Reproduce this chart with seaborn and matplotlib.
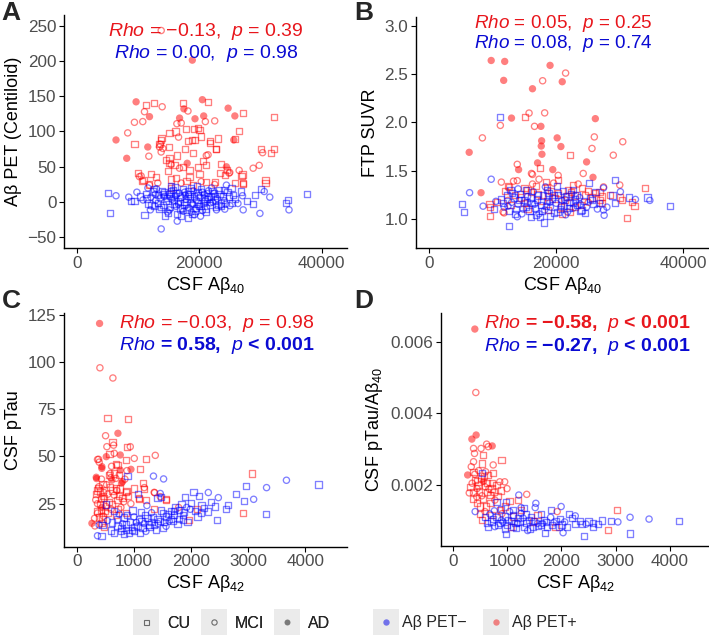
import pandas as pd
import matplotlib
matplotlib.use("Agg")
import matplotlib.pyplot as plt
import seaborn as sns
from matplotlib.lines import Line2D
from matplotlib.legend_handler import HandlerTuple

# ---- data (x, y, diagnosis) ----
# Panel A: CSF Ab40 vs Ab PET centiloid
a_pos = [(13770,243,"MCI"),(18850,201,"AD"),(9670,142,"AD"),(11310,138,"CU"),(12570,140,"CU"),(13930,135,"MCI"),
         (17270,140,"CU"),(17480,132,"AD"),(18140,129,"MCI"),(20490,145,"AD"),(21420,142,"CU"),(24700,133,"AD"),
         (25800,122,"AD"),(27160,126,"CU"),(32180,120,"CU"),(11040,128,"MCI"),(11860,121,"AD"),(10760,114,"MCI"),
         (9400,113,"MCI"),(6390,88,"AD"),(8300,98,"MCI"),(9400,82,"CU"),(11580,78,"AD"),(8140,62,"AD"),
         (11750,65,"MCI"),(13600,82,"MCI"),(14040,76,"MCI"),(13820,91,"CU"),(16770,119,"AD"),(19290,118,"AD"),
         (20710,122,"AD"),(20980,114,"MCI"),(22510,115,"MCI"),(19780,105,"CU"),(18850,88,"CU"),(25620,88,"AD"),
         (26500,101,"CU"),(25790,89,"CU"),(22780,75,"CU"),(21690,84,"CU"),(21420,67,"MCI"),(30050,75,"CU"),
         (32240,75,"CU"),(31640,70,"CU"),(30330,70,"MCI"),(29780,52,"MCI"),(28790,48,"MCI"),(30820,31,"CU"),
         (30820,27,"CU"),(26500,45,"MCI"),(27050,39,"CU"),(27160,27,"CU"),(24970,42,"MCI"),(24420,50,"AD"),
         (23600,54,"CU"),(23330,41,"CU"),(9950,41,"CU"),(10490,37,"MCI"),(10870,31,"CU"),(11860,24,"MCI"),
         (12950,36,"CU"),(15130,98,"CU"),(16110,100,"CU"),(16330,111,"MCI"),(17040,112,"MCI"),(18130,86,"CU"),
         (19330,88,"CU"),(20040,102,"CU"),(20310,93,"CU"),(19110,103,"CU"),(13760,88,"CU"),(13490,82,"CU"),
         (13760,71,"MCI"),(15020,78,"CU"),(13490,78,"MCI"),(15130,62,"CU"),(15130,55,"CU"),(15400,53,"MCI"),
         (15950,53,"CU"),(18020,55,"AD"),(16760,48,"MCI"),(17300,50,"CU"),(18400,45,"CU"),(19770,50,"CU"),
         (20040,40,"CU"),(21030,53,"CU"),(21140,66,"MCI"),(21680,86,"CU"),(22670,75,"CU"),(24580,46,"CU"),
         (10640,30,"CU"),(10210,36,"MCI"),(12120,40,"CU"),(13210,27,"MCI"),(11740,25,"CU"),(15400,32,"CU"),
         (16220,34,"CU"),(18400,36,"CU"),(18950,24,"CU"),(15400,20,"CU"),(17040,27,"MCI"),(20310,29,"MCI"),
         (21140,29,"CU"),(22510,29,"CU"),(22510,25,"MCI"),(24150,38,"CU"),(25790,27,"CU"),(24850,41,"MCI"),
         (26880,37,"CU"),(27160,26,"CU"),(17800,104,"CU"),(16600,92,"MCI"),(14500,60,"CU"),(19000,70,"CU"),
         (17600,75,"CU"),(16400,66,"CU"),(20600,58,"CU"),(23000,90,"CU"),(14900,44,"CU"),(17900,30,"CU")]
a_neg = [(5030,13,"CU"),(6390,9,"MCI"),(5410,-15,"CU"),(8470,7,"MCI"),(9400,1,"CU"),(11040,-18,"CU"),
         (13770,-38,"MCI"),(16390,-27,"MCI"),(18140,-23,"CU"),(18700,-14,"MCI"),(27160,-11,"MCI"),(29890,-16,"MCI"),
         (34150,-1,"CU"),(34530,3,"CU"),(34640,-11,"MCI"),(37590,11,"CU"),(30050,18,"CU"),(30600,15,"MCI"),
         (29070,10,"CU"),(28790,-3,"CU"),(27050,9,"MCI"),(24150,-10,"MCI"),(24420,24,"MCI"),(25240,20,"CU"),
         (25500,10,"CU"),(20500,-12,"MCI"),(15410,22,"CU"),(11600,20,"MCI"),(10300,8,"CU"),(10800,3,"MCI"),
         (11300,12,"CU"),(11700,-2,"CU"),(12100,7,"MCI"),(12400,15,"CU"),(12600,-6,"CU"),(12900,3,"MCI"),
         (13200,10,"CU"),(13400,-10,"CU"),(13600,5,"MCI"),(13900,16,"CU"),(14100,-4,"CU"),(14300,8,"MCI"),
         (14600,1,"CU"),(14800,-14,"MCI"),(15000,12,"CU"),(15200,-7,"CU"),(15500,4,"MCI"),(15700,17,"CU"),
         (15900,-2,"CU"),(16100,9,"MCI"),(16300,-17,"CU"),(16500,2,"CU"),(16700,13,"MCI"),(16900,-9,"CU"),
         (17100,6,"MCI"),(17300,19,"CU"),(17500,-4,"CU"),(17700,10,"MCI"),(17900,0,"CU"),(18100,15,"CU"),
         (18300,-8,"MCI"),(18500,5,"CU"),(18700,20,"CU"),(18900,-3,"MCI"),(19100,9,"CU"),(19300,-12,"CU"),
         (19500,3,"MCI"),(19700,14,"CU"),(19900,-6,"CU"),(20100,7,"MCI"),(20300,18,"CU"),(20600,-1,"CU"),
         (20800,11,"MCI"),(21000,-9,"CU"),(21200,4,"CU"),(21500,16,"MCI"),(21700,-4,"CU"),(21900,8,"CU"),
         (22200,0,"MCI"),(22400,13,"CU"),(22700,-7,"CU"),(22900,5,"MCI"),(23200,17,"CU"),(23500,-2,"CU"),
         (23800,9,"CU"),(24100,2,"MCI"),(24600,14,"CU"),(25000,-5,"MCI"),(25800,4,"CU"),(26300,-2,"MCI"),
         (12000,-11,"MCI"),(14400,-19,"CU"),(16000,21,"CU"),(18800,-17,"CU"),(20200,-20,"MCI"),(22000,20,"MCI"),
         (19600,22,"CU"),(17400,-13,"MCI"),(13000,19,"MCI"),(15300,9,"CU"),(17800,4,"MCI"),(20900,1,"CU"),
         (22600,9,"CU"),(9800,14,"MCI"),(8900,2,"CU"),(27800,2,"CU"),(26800,15,"CU"),(31500,7,"MCI"),
         (14000,12,"CU"),(16200,-6,"MCI"),(18200,9,"CU"),(19800,-2,"CU"),(21300,12,"MCI"),(23100,-4,"CU"),
         (11500,5,"CU"),(12200,-4,"CU"),(12800,11,"MCI"),(13300,-1,"CU"),(13800,-7,"CU"),(14200,14,"CU"),
         (14700,6,"CU"),(15100,-11,"MCI"),(15400,15,"CU"),(15800,3,"CU"),(16200,13,"CU"),(16600,-3,"MCI"),
         (16900,8,"CU"),(17200,-8,"CU"),(17600,14,"MCI"),(18000,-11,"CU"),(18400,11,"CU"),(18600,-1,"CU"),
         (19000,16,"MCI"),(19400,-8,"CU"),(19800,10,"CU"),(20200,-5,"CU"),(20500,14,"MCI"),(20700,5,"CU"),
         (21100,-14,"CU"),(21400,8,"CU"),(21800,-1,"MCI"),(22100,16,"CU"),(22500,3,"CU"),(22800,-11,"MCI"),
         (23300,11,"CU"),(23600,-6,"CU"),(24000,17,"CU"),(24300,-3,"MCI"),(24800,8,"CU"),(25300,-1,"CU"),
         (12600,19,"CU"),(17000,-20,"CU"),(19200,-18,"MCI"),(14900,-16,"CU")]

# Panel B: CSF Ab40 vs FTP SUVR
b_pos = [(9760,2.645,"AD"),(11890,2.635,"AD"),(19040,2.594,"AD"),(21490,2.514,"MCI"),(17870,2.434,"MCI"),
         (11730,2.438,"AD"),(20960,2.424,"AD"),(16270,2.351,"AD"),(15730,2.098,"MCI"),(18190,2.10,"MCI"),
         (15090,2.057,"CU"),(12960,2.046,"AD"),(11200,1.97,"MCI"),(16590,1.96,"MCI"),(17600,1.96,"AD"),
         (26180,2.04,"AD"),(8370,1.84,"MCI"),(26020,1.85,"MCI"),(20160,1.84,"AD"),(17710,1.81,"AD"),
         (17650,1.755,"AD"),(20750,1.75,"AD"),(25650,1.73,"MCI"),(6290,1.69,"AD"),(17760,1.67,"AD"),
         (30500,1.80,"MCI"),(29010,1.66,"MCI"),(22130,1.66,"CU"),(17070,1.58,"AD"),(24800,1.59,"AD"),
         (13870,1.565,"MCI"),(14080,1.51,"AD"),(16110,1.47,"MCI"),(19470,1.51,"AD"),(20320,1.45,"MCI"),
         (25810,1.43,"AD"),(24270,1.47,"MCI"),(8160,1.27,"AD"),(11360,1.38,"MCI"),(13280,1.39,"MCI"),
         (13870,1.395,"MCI"),(12430,1.34,"CU"),(33970,1.32,"CU"),(32370,1.13,"CU"),(31200,1.01,"CU"),
         (20900,1.05,"CU"),(9600,1.03,"CU"),(9490,1.15,"CU"),(11790,1.06,"MCI"),(30130,1.22,"CU"),
         (30030,1.35,"MCI"),(26930,1.19,"CU"),(26830,1.28,"CU"),(12530,1.33,"CU"),(15470,1.30,"CU"),
         (16270,1.36,"MCI"),(16800,1.34,"CU"),(18400,1.38,"CU"),(18560,1.33,"CU"),(20270,1.40,"CU"),
         (22670,1.35,"CU"),(23470,1.36,"MCI"),(25070,1.29,"CU"),(26130,1.27,"CU"),(27470,1.33,"MCI"),
         (27200,1.16,"CU"),(30400,1.19,"CU"),(31900,1.17,"CU"),(9600,1.12,"CU"),(11630,1.07,"MCI"),
         (10670,1.17,"CU"),(12370,1.19,"MCI"),(14400,1.22,"CU"),(16000,1.28,"CU"),(17070,1.26,"CU"),
         (18670,1.23,"CU"),(20270,1.27,"CU"),(21330,1.19,"CU"),(22930,1.24,"CU"),(23970,1.14,"CU"),
         (25070,1.17,"MCI"),(27200,1.23,"CU"),(18670,1.09,"CU"),(15470,1.10,"CU"),(12800,1.14,"CU"),
         (22130,1.07,"CU"),(16270,1.46,"MCI"),(17440,1.53,"CU"),(19800,1.21,"CU"),(21900,1.30,"CU"),
         (14900,1.16,"CU"),(24500,1.24,"CU"),(13500,1.25,"CU"),(15000,1.32,"CU"),(17700,1.18,"CU"),
         (19200,1.29,"CU"),(20800,1.12,"CU"),(22300,1.28,"CU"),(24100,1.32,"CU"),(25600,1.22,"CU"),
         (19600,1.37,"MCI"),(21800,1.23,"CU"),(11900,1.29,"CU"),(28500,1.25,"CU"),(17300,1.41,"MCI"),
         (23000,1.12,"CU")]
b_neg = [(11090,2.057,"CU"),(9760,1.41,"MCI"),(6350,1.27,"MCI"),(5170,1.15,"CU"),(5440,1.07,"CU"),
         (8480,1.13,"MCI"),(12530,0.92,"CU"),(18030,0.96,"CU"),(13870,1.02,"MCI"),(17490,1.02,"CU"),
         (20110,1.34,"CU"),(25170,1.37,"CU"),(27470,1.32,"MCI"),(29330,1.40,"CU"),(28900,1.24,"CU"),
         (30130,1.28,"MCI"),(29220,1.16,"CU"),(34400,1.22,"CU"),(34770,1.19,"MCI"),(37920,1.13,"CU"),
         (27570,1.035,"MCI"),(27470,1.09,"MCI"),(23840,1.08,"CU"),(11300,1.20,"CU"),(11800,1.12,"MCI"),
         (12200,1.25,"CU"),(12600,1.08,"CU"),(13000,1.17,"MCI"),(13300,1.22,"CU"),(13700,1.10,"CU"),
         (14000,1.15,"MCI"),(14300,1.26,"CU"),(14600,1.05,"MCI"),(14900,1.19,"CU"),(15200,1.12,"CU"),
         (15500,1.23,"MCI"),(15800,1.08,"CU"),(16100,1.16,"CU"),(16400,1.28,"MCI"),(16700,1.11,"CU"),
         (17000,1.20,"CU"),(17300,1.05,"MCI"),(17600,1.14,"CU"),(17900,1.24,"CU"),(18200,1.09,"MCI"),
         (18500,1.18,"CU"),(18800,1.27,"CU"),(19100,1.12,"MCI"),(19400,1.21,"CU"),(19700,1.06,"CU"),
         (20000,1.16,"MCI"),(20300,1.25,"CU"),(20600,1.10,"CU"),(20900,1.19,"MCI"),(21200,1.13,"CU"),
         (21500,1.23,"CU"),(21800,1.07,"MCI"),(22100,1.17,"CU"),(22400,1.26,"CU"),(22700,1.11,"MCI"),
         (23000,1.20,"CU"),(23300,1.14,"CU"),(23700,1.22,"MCI"),(24000,1.09,"CU"),(24400,1.18,"CU"),
         (24800,1.12,"MCI"),(25300,1.21,"CU"),(25900,1.15,"CU"),(26500,1.10,"MCI"),(16000,1.02,"CU"),
         (19000,1.03,"CU"),(21500,1.04,"MCI"),(15200,1.30,"CU"),(18300,1.33,"MCI"),(22600,1.30,"CU"),
         (12800,1.30,"CU"),(10500,1.18,"MCI"),(10200,1.10,"CU"),(28000,1.12,"MCI"),(26200,1.28,"CU"),
         (31500,1.22,"CU"),(32500,1.20,"MCI"),(11600,1.16,"CU"),(12400,1.13,"MCI"),(13100,1.27,"CU"),
         (13500,1.05,"CU"),(14200,1.19,"CU"),(14800,1.10,"MCI"),(15400,1.17,"CU"),(16000,1.22,"CU"),
         (16600,1.15,"MCI"),(17200,1.24,"CU"),(17800,1.08,"CU"),(18400,1.13,"CU"),(19000,1.17,"MCI"),
         (19600,1.25,"CU"),(20200,1.07,"CU"),(20800,1.14,"CU"),(21400,1.20,"MCI"),(22000,1.11,"CU"),
         (22600,1.16,"CU"),(23200,1.25,"CU"),(23800,1.15,"MCI"),(24600,1.06,"CU"),(25600,1.19,"CU"),
         (26800,1.16,"CU"),(18600,1.30,"CU"),(21100,1.29,"CU"),(14000,1.31,"MCI"),(16800,1.04,"CU")]

# Panel C: CSF Ab42 vs CSF pTau
c_pos = [(397,120.5,"AD"),(403,97,"MCI"),(630,91.6,"MCI"),(537,70.2,"CU"),(893,69.9,"CU"),(718,62.3,"AD"),
         (502,61,"MCI"),(625,57.8,"CU"),(525,55.2,"MCI"),(642,56,"MCI"),(876,55.2,"CU"),(934,55.2,"MCI"),
         (380,48.5,"MCI"),(438,44.6,"AD"),(514,49.9,"AD"),(572,51.3,"CU"),(654,51.7,"MCI"),(683,46,"CU"),
         (759,50.8,"AD"),(1004,49,"MCI"),(1208,48.7,"CU"),(1372,50.6,"MCI"),(1109,43.2,"CU"),(864,48.1,"CU"),
         (946,43.2,"AD"),(876,42.5,"MCI"),(339,39,"AD"),(800,36.7,"AD"),(741,40.2,"CU"),(584,41,"MCI"),
         (613,37.5,"AD"),(385,34,"MCI"),(409,31.4,"CU"),(870,31.7,"CU"),(1156,35.8,"CU"),(1179,33.5,"MCI"),
         (1086,27.8,"CU"),(1214,27,"CU"),(1360,30.8,"MCI"),(1460,28.7,"MCI"),(1559,27.3,"CU"),(3064,41,"CU"),
         (2907,20.2,"CU"),(1955,16.3,"CU"),(1780,23,"MCI"),(2101,22,"CU"),(263,14.6,"AD"),(309,17.2,"MCI"),
         (361,25,"MCI"),(361,32,"CU"),(379,33.5,"CU"),(344,38.3,"AD"),(361,48.4,"MCI"),(390,47,"MCI"),
         (436,43.7,"AD"),(448,35.6,"CU"),(419,27.6,"CU"),(478,27.9,"CU"),(507,23.5,"MCI"),(419,21.7,"CU"),
         (536,20,"CU"),(466,18.3,"MCI"),(624,32,"CU"),(653,29.5,"MCI"),(682,33,"CU"),(712,27,"CU"),
         (595,38.8,"MCI"),(566,40,"CU"),(682,38.4,"MCI"),(781,35.9,"AD"),(712,45.4,"CU"),(607,44.8,"MCI"),
         (758,42.8,"AD"),(390,17.7,"CU"),(315,13.2,"MCI"),(431,14.8,"CU"),(770,23,"MCI"),(857,31,"CU"),
         (857,20,"CU"),(945,25,"MCI"),(1091,27.4,"CU"),(1178,32.7,"CU"),(1353,31,"MCI"),(1557,26.8,"CU"),
         (1353,22.3,"CU"),(330,27,"MCI"),(470,31,"MCI"),(560,26,"CU"),(600,22,"MCI"),(680,19,"CU"),
         (440,23,"AD"),(350,21,"CU"),(520,35,"MCI"),(740,29,"CU"),(820,26,"MCI"),(480,12.5,"CU"),
         (330,30,"CU"),(360,20,"MCI"),(410,25,"CU"),(430,38,"MCI"),(460,29,"CU"),(490,21,"CU"),
         (540,30,"MCI"),(580,34,"CU"),(620,25,"CU"),(650,41,"CU"),(700,32,"MCI"),(720,22,"CU"),
         (760,33,"CU"),(800,28,"CU"),(840,38,"MCI"),(900,29,"CU"),(1000,33,"CU"),(450,17,"CU")]
c_neg = [(361,8,"MCI"),(431,8,"CU"),(507,24.6,"CU"),(885,39.6,"CU"),(1340,39.6,"MCI"),(1517,38.1,"MCI"),
         (1073,30,"CU"),(1225,24,"MCI"),(1410,27.8,"CU"),(1470,28.7,"CU"),(1459,30.4,"MCI"),(2042,31,"CU"),
         (1890,28.5,"CU"),(2300,30.9,"MCI"),(2140,29.1,"CU"),(2475,28.2,"MCI"),(2784,30.2,"CU"),(2959,34.4,"CU"),
         (3319,33.5,"MCI"),(3667,37.4,"MCI"),(4228,35.1,"CU"),(3093,27.3,"MCI"),(2918,26.2,"CU"),(3307,19.6,"CU"),
         (2452,16.5,"CU"),(2638,24.4,"CU"),(2610,22.3,"CU"),(2416,23.5,"CU"),(2288,20.8,"CU"),(2171,19.9,"CU"),
         (2112,18.2,"CU"),(1984,22,"MCI"),(1832,25,"CU"),(1791,21.5,"CU"),(1704,18.8,"CU"),(1645,21,"CU"),
         (1616,15.7,"MCI"),(1558,18.2,"CU"),(1470,21.4,"CU"),(1412,17,"CU"),(1307,15.3,"CU"),(1237,17.6,"CU"),
         (1178,14.4,"MCI"),(1091,17,"CU"),(1003,12.7,"CU"),(933,15.3,"CU"),(857,11.2,"CU"),(799,14.4,"MCI"),
         (770,10.5,"CU"),(712,13,"CU"),(653,9.5,"CU"),(741,19.4,"MCI"),(828,17.7,"CU"),(974,21.4,"CU"),
         (1120,20.5,"CU"),(1307,20.2,"MCI"),(1353,13.6,"CU"),(1529,15.2,"CU"),(1675,16,"CU"),(1762,14.3,"CU"),
         (1850,16.6,"CU"),(1937,15.2,"CU"),(1003,10.3,"CU"),(1149,12,"CU"),(1208,10.3,"MCI"),(595,10.8,"CU"),
         (653,21.3,"CU"),(536,16,"MCI"),(915,9.5,"CU"),(448,13.7,"CU"),(390,13.7,"MCI"),(1040,15,"MCI"),
         (1270,12.5,"CU"),(1600,19.5,"CU"),(1880,20.5,"CU"),(2000,25.5,"CU"),(1720,23,"CU"),(860,14,"CU"),
         (1420,14.5,"MCI"),(2230,22.5,"CU"),(620,15,"CU"),(700,17,"CU"),(780,12,"CU"),(880,19,"CU"),
         (960,11,"CU"),(1060,13,"CU"),(1130,16,"CU"),(1190,19,"CU"),(1260,14,"CU"),(1330,18,"CU"),
         (1380,11,"CU"),(1450,16,"CU"),(1500,20,"CU"),(1560,13,"MCI"),(1640,17,"CU"),(1700,21,"CU"),
         (1790,17,"CU"),(1860,19,"CU"),(1920,23,"MCI"),(2060,21,"CU"),(2180,24,"CU"),(2350,26,"CU"),
         (1000,18,"MCI"),(830,9,"CU"),(1110,9.5,"CU"),(1500,12,"CU")]

# Panel D: CSF Ab42 vs CSF pTau/Ab40
d_pos = [(400,0.00635,"AD"),(418,0.00458,"MCI"),(424,0.003395,"AD"),(345,0.00328,"AD"),(618,0.00314,"MCI"),
         (721,0.00309,"AD"),(648,0.00307,"MCI"),(376,0.00302,"MCI"),(394,0.00288,"MCI"),(557,0.00284,"CU"),
         (515,0.00302,"MCI"),(891,0.00270,"CU"),(376,0.00265,"MCI"),(527,0.00260,"CU"),(739,0.00256,"MCI"),
         (334,0.00251,"MCI"),(376,0.00237,"CU"),(267,0.00228,"AD"),(406,0.00214,"CU"),(515,0.00219,"CU"),
         (648,0.00228,"CU"),(739,0.00233,"CU"),(600,0.00237,"MCI"),(467,0.00200,"CU"),(588,0.00195,"MCI"),
         (709,0.00190,"CU"),(860,0.00209,"MCI"),(951,0.00209,"MCI"),(994,0.00190,"MCI"),(297,0.00178,"MCI"),
         (376,0.00181,"CU"),(436,0.00167,"MCI"),(557,0.00162,"CU"),(678,0.00172,"CU"),(770,0.00158,"MCI"),
         (1042,0.00156,"CU"),(1194,0.00158,"CU"),(1358,0.00174,"MCI"),(497,0.00140,"CU"),(588,0.00126,"MCI"),
         (527,0.00102,"CU"),(709,0.00116,"CU"),(860,0.00130,"CU"),(1103,0.00112,"CU"),(1073,0.00084,"CU"),
         (1558,0.00116,"CU"),(1891,0.00084,"CU"),(3030,0.00131,"CU"),(2860,0.00074,"CU"),(1921,0.00126,"MCI"),
         (1467,0.00098,"CU"),(440,0.00190,"MCI"),(620,0.00180,"CU"),(800,0.00200,"CU"),(350,0.00205,"MCI"),
         (470,0.00240,"MCI"),(690,0.00150,"CU"),(560,0.00210,"AD"),(440,0.00150,"CU"),(900,0.00120,"MCI"),
         (320,0.00195,"CU"),(360,0.00160,"CU"),(400,0.00230,"MCI"),(450,0.00210,"CU"),(480,0.00180,"CU"),
         (530,0.00170,"MCI"),(570,0.00225,"CU"),(630,0.00205,"CU"),(660,0.00190,"MCI"),(720,0.00205,"CU"),
         (760,0.00180,"CU"),(820,0.00170,"CU"),(880,0.00185,"CU"),(950,0.00140,"CU"),(1250,0.00130,"CU"),
         (600,0.00140,"CU"),(500,0.00120,"CU")]
d_neg = [(527,0.00233,"CU"),(406,0.00126,"MCI"),(1212,0.00172,"MCI"),(1994,0.00140,"MCI"),(3267,0.00110,"MCI"),
         (3618,0.00105,"MCI"),(4164,0.00100,"CU"),(3267,0.00065,"CU"),(2418,0.00058,"CU"),(982,0.00063,"CU"),
         (1691,0.00067,"CU"),(2030,0.00067,"MCI"),(2921,0.00100,"CU"),(3042,0.00097,"MCI"),(2752,0.00101,"CU"),
         (2588,0.00093,"CU"),(2455,0.00091,"MCI"),(2588,0.00082,"CU"),(2346,0.00100,"CU"),(2255,0.00091,"CU"),
         (2255,0.00114,"MCI"),(2133,0.00119,"CU"),(1800,0.00131,"CU"),(1515,0.00137,"MCI"),(1315,0.00135,"CU"),
         (1254,0.00121,"MCI"),(1194,0.00107,"CU"),(1103,0.00116,"CU"),(1012,0.00102,"CU"),(891,0.00102,"MCI"),
         (800,0.00110,"CU"),(709,0.00098,"CU"),(648,0.00084,"CU"),(770,0.00084,"MCI"),(860,0.00093,"CU"),
         (951,0.00079,"CU"),(1103,0.00084,"CU"),(1194,0.00093,"MCI"),(1315,0.00084,"CU"),(1376,0.00073,"MCI"),
         (1467,0.00084,"CU"),(1558,0.00093,"MCI"),(1679,0.00102,"CU"),(1739,0.00084,"CU"),(1861,0.00095,"MCI"),
         (1952,0.00082,"CU"),(1800,0.00110,"MCI"),(1618,0.00119,"CU"),(1436,0.00110,"CU"),(2103,0.00084,"CU"),
         (679,0.00119,"MCI"),(879,0.00133,"CU"),(1042,0.00126,"MCI"),(982,0.00153,"CU"),(800,0.00153,"CU"),
         (1527,0.00149,"MCI"),(588,0.00110,"CU"),(1254,0.00137,"MCI"),(1150,0.00095,"CU"),(1620,0.00090,"CU"),
         (1980,0.00105,"CU"),(2200,0.00108,"CU"),(1400,0.00102,"CU"),(950,0.00112,"CU"),
         (620,0.00095,"CU"),(740,0.00105,"CU"),(830,0.00088,"CU"),(920,0.00097,"MCI"),(1000,0.00088,"CU"),
         (1070,0.00100,"CU"),(1160,0.00081,"CU"),(1240,0.00098,"CU"),(1290,0.00108,"MCI"),(1350,0.00093,"CU"),
         (1420,0.00079,"CU"),(1490,0.00099,"CU"),(1570,0.00085,"CU"),(1650,0.00093,"MCI"),(1720,0.00097,"CU"),
         (1820,0.00089,"CU"),(1900,0.00100,"CU"),(2000,0.00090,"CU"),(2060,0.00097,"MCI"),(2380,0.00092,"CU"),
         (2500,0.00098,"CU"),(2680,0.00091,"CU"),(1100,0.00130,"CU"),(1350,0.00118,"CU"),(760,0.00128,"MCI")]

# correlation annotations: (text, colour, bold)
a_notes = [(r"$\mathit{Rho}$ = −0.13,  $\mathit{p}$ = 0.39", "red", False),
           (r"$\mathit{Rho}$ = 0.00,  $\mathit{p}$ = 0.98", "blue", False)]
b_notes = [(r"$\mathit{Rho}$ = 0.05,  $\mathit{p}$ = 0.25", "red", False),
           (r"$\mathit{Rho}$ = 0.08,  $\mathit{p}$ = 0.74", "blue", False)]
c_notes = [(r"$\mathit{Rho}$ = −0.03,  $\mathit{p}$ = 0.98", "red", False),
           (r"$\mathit{Rho}$ = 0.58,  $\mathit{p}$ < 0.001", "blue", True)]
d_notes = [(r"$\mathit{Rho}$ = −0.58,  $\mathit{p}$ < 0.001", "red", True),
           (r"$\mathit{Rho}$ = −0.27,  $\mathit{p}$ < 0.001", "blue", True)]

sns.set_theme(style="ticks")
plt.rcParams['font.family'] = ['Liberation Sans', 'DejaVu Sans']
plt.rcParams['mathtext.fontset'] = 'custom'
plt.rcParams['mathtext.rm'] = 'Liberation Sans'
plt.rcParams['mathtext.it'] = 'Liberation Sans:italic'
plt.rcParams['mathtext.bf'] = 'Liberation Sans:bold'

PT_COL = {"neg": "#0000ff", "pos": "#ff0000"}
TXT_COL = {"blue": "#0a0ad2", "red": "#e8161c"}
GREY = "#4d4d4d"


def draw_points(ax, pts, col):
    df = pd.DataFrame(pts, columns=["x", "y", "dx"])
    for dx, sub in df.groupby("dx"):
        if dx == "AD":
            sns.scatterplot(data=sub, x="x", y="y", ax=ax, marker="o", s=28, color=col,
                            edgecolor="none", alpha=0.5, legend=False)
        else:
            sns.scatterplot(data=sub, x="x", y="y", ax=ax, marker="s" if dx == "CU" else "o",
                            s=20, color=col, facecolor="none", edgecolor=col,
                            linewidth=0.95, alpha=0.5, legend=False)


def style_axes(ax, xlabel, ylabel, xlim, ylim, xticks, yticks, ylabs=None):
    ax.set_xlim(*xlim)
    ax.set_ylim(*ylim)
    ax.set_xticks(xticks)
    ax.set_yticks(yticks)
    if ylabs is not None:
        ax.set_yticklabels(ylabs)
    ax.set_xlabel(xlabel, fontsize=13, color="black", labelpad=3)
    ax.set_ylabel(ylabel, fontsize=13, color="black", labelpad=4)
    sns.despine(ax=ax)
    for sp in ["left", "bottom"]:
        ax.spines[sp].set_color("black")
        ax.spines[sp].set_linewidth(1.0)
    ax.tick_params(axis="both", labelsize=12.3, labelcolor=GREY, color="black",
                   length=3.5, width=0.8, pad=2)


def annotate(ax, notes, xs, ys, size=14):
    for (txt, c, bold), y in zip(notes, ys):
        ax.text(xs, y, txt, transform=ax.transAxes, ha="center", va="center",
                color=TXT_COL[c], fontsize=size, fontweight="bold" if bold else "normal")


fig = plt.figure(figsize=(7.09, 6.37), dpi=100)
axA = fig.add_axes([0.0903, 0.6107, 0.399, 0.3658])
axB = fig.add_axes([0.5867, 0.6107, 0.4133, 0.3626])
axC = fig.add_axes([0.0903, 0.1418, 0.399, 0.3664])
axD = fig.add_axes([0.622, 0.1429, 0.378, 0.3653])

for ax, pos, neg in [(axA, a_pos, a_neg), (axB, b_pos, b_neg), (axC, c_pos, c_neg), (axD, d_pos, d_neg)]:
    draw_points(ax, pos, PT_COL["pos"])
    draw_points(ax, neg, PT_COL["neg"])

ab40 = r"CSF Aβ$_{\mathregular{40}}$"
ab42 = r"CSF Aβ$_{\mathregular{42}}$"
style_axes(axA, ab40, "Aβ PET (Centiloid)", (-2100, 44100), (-65, 265),
           [0, 20000, 40000], [-50, 0, 50, 100, 150, 200, 250],
           ["−50", "0", "50", "100", "150", "200", "250"])
style_axes(axB, ab40, "FTP SUVR", (-2100, 44100), (0.695, 3.097),
           [0, 20000, 40000], [1.0, 1.5, 2.0, 2.5, 3.0], ["1.0", "1.5", "2.0", "2.5", "3.0"])
style_axes(axC, ab42, "CSF pTau", (-225, 4725), (2.2, 125.9),
           [0, 1000, 2000, 3000, 4000], [25, 50, 75, 100, 125])
style_axes(axD, ab42, r"CSF pTau/Aβ$_{\mathregular{40}}$", (-225, 4725), (0.0003, 0.00679),
           [0, 1000, 2000, 3000, 4000], [0.002, 0.004, 0.006], ["0.002", "0.004", "0.006"])

annotate(axA, a_notes, 0.503, [0.928, 0.836])
annotate(axB, b_notes, 0.503, [0.972, 0.884], size=13.6)
annotate(axC, c_notes, 0.54, [0.957, 0.864])
annotate(axD, d_notes, 0.548, [0.957, 0.857])

for lab, x, y in [("A", 0.002, 0.999), ("B", 0.5, 0.999), ("C", 0.002, 0.546), ("D", 0.5, 0.546)]:
    fig.text(x, y, lab, fontsize=19, fontweight="bold", ha="left", va="top")

# legends at the bottom (grey key boxes like ggplot)
bg = Line2D([], [], marker="s", markersize=19, color="#ebebeb", linestyle="none", markeredgewidth=0)
cu = Line2D([], [], marker="s", markersize=3.6, markerfacecolor="none", markeredgecolor="#6a6a6a",
            markeredgewidth=0.8, linestyle="none")
mci = Line2D([], [], marker="o", markersize=3.8, markerfacecolor="none", markeredgecolor="#6a6a6a",
             markeredgewidth=0.8, linestyle="none")
ad = Line2D([], [], marker="o", markersize=4.3, markerfacecolor="#7a7a7a", markeredgewidth=0, linestyle="none")
neg_h = Line2D([], [], marker="o", markersize=4.6, markerfacecolor="#7272ea", markeredgewidth=0, linestyle="none")
pos_h = Line2D([], [], marker="o", markersize=4.6, markerfacecolor="#ee8080", markeredgewidth=0, linestyle="none")

hm = {tuple: HandlerTuple(ndivide=1, pad=0)}
leg_y = 1 - 623 / 637
leg1 = fig.legend([(bg, cu), (bg, mci), (bg, ad)], ["CU", "MCI", "AD"], loc="center left",
                  bbox_to_anchor=(133 / 709, leg_y), ncol=3, frameon=False, fontsize=11.5,
                  handler_map=hm, handlelength=1.65, handletextpad=0.5, columnspacing=0.62,
                  borderpad=0, borderaxespad=0)
fig.add_artist(leg1)
fig.legend([(bg, neg_h), (bg, pos_h)], ["Aβ PET−", "Aβ PET+"], loc="center left",
           bbox_to_anchor=(373 / 709, leg_y), ncol=2, frameon=False, fontsize=11.5,
           handler_map=hm, handlelength=1.65, handletextpad=0.15, columnspacing=1.05,
           borderpad=0, borderaxespad=0)

fig.savefig("out.png", dpi=100)
